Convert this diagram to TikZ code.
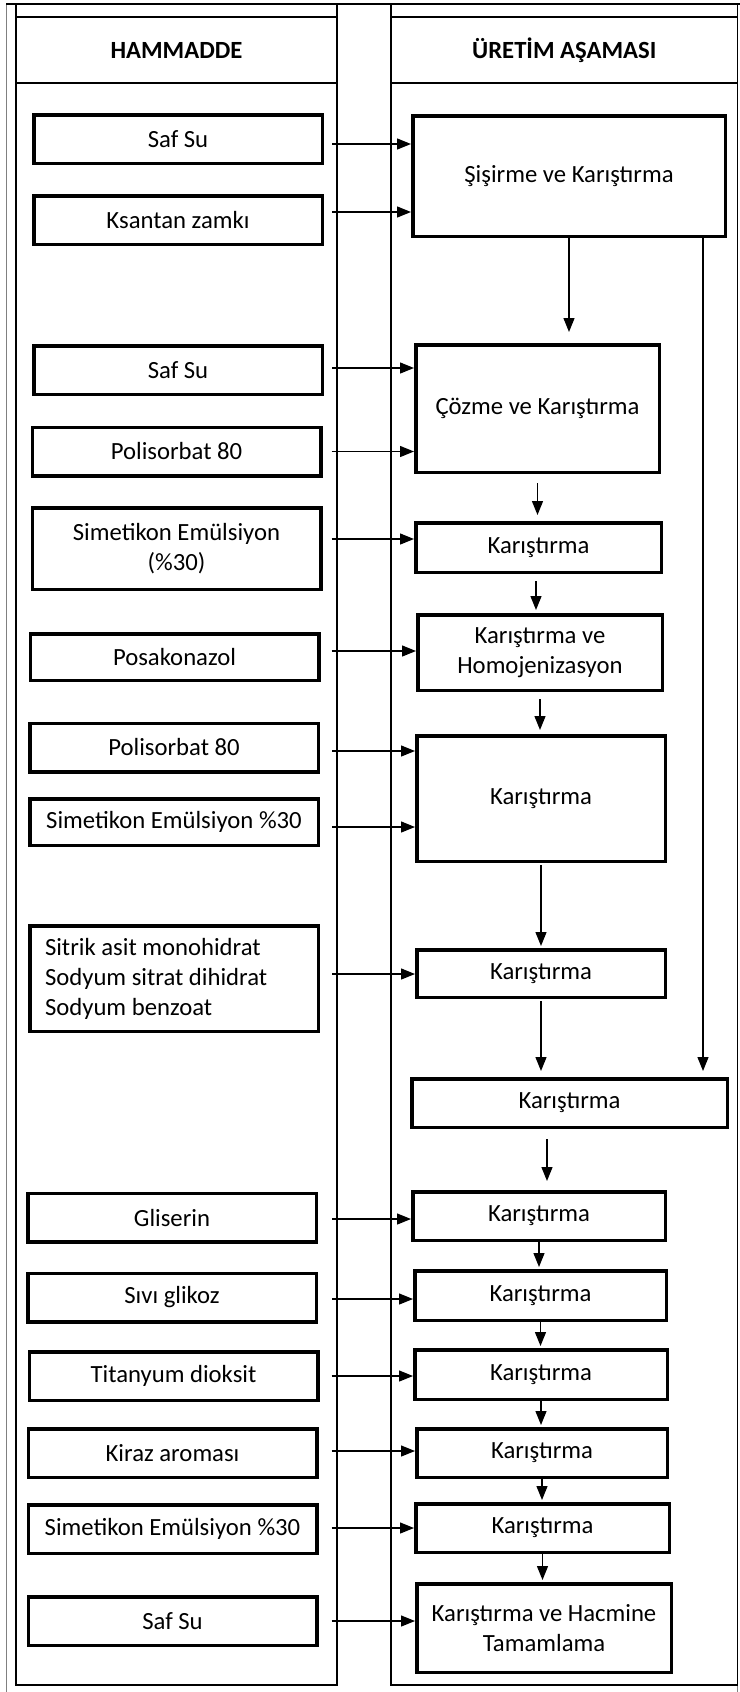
\documentclass[tikz,border=0pt]{standalone}
\usepackage{fontspec}
\setmainfont{Carlito}
\usetikzlibrary{arrows.meta}

\begin{document}
\begin{tikzpicture}[
      x=1pt, y=-1pt,
      every node/.style={font=\fontsize{24.7}{30}\selectfont},
      kutu/.style={draw, line width=3.5pt, inner sep=0pt, align=center},
      ham/.style={kutu, minimum width=288.5pt, minimum height=48.5pt},
      uret/.style={kutu, minimum width=252.5pt, minimum height=48.5pt},
      baslik/.style={draw, line width=1.5pt, minimum height=66.3pt,
                     font=\fontsize{24.7}{30}\selectfont\bfseries},
      serit/.style={line width=1.5pt},
      ok/.style={-{Triangle[length=14pt,width=11pt]}, line width=1.3pt}]

        \fill[white] (0,0) rectangle (739,1692);
        \useasboundingbox (0,0) rectangle (739,1692);

        % cerceve
        \draw[gray, line width=1pt] (6,4) -- (6,1700);
        \draw[gray, line width=1pt] (737.5,4) -- (737.5,1700);
        \draw[line width=2.5pt] (6,4) -- (745,4);
        \draw[serit] (16,4) rectangle (337,1685);
        \draw[serit] (391,4) rectangle (737.5,1685);

        \node[baslik, minimum width=321pt] (hammadde) at (176.5,50) {HAMMADDE};
        \node[baslik, minimum width=346.5pt] (asama) at (564.25,50) {ÜRETİM AŞAMASI};

        % hammadde
        \node[ham] (safsu1) at (178,139) {Saf Su};
        \node[ham] (ksantan) at (178,220) {Ksantan zamkı};
        \node[ham] (safsu2) at (178,370) {Saf Su};
        \node[ham] (polisorbat1) at (176.5,451.5) {Polisorbat 80};
        \node[ham, minimum height=81.5pt] (simetikon1) at (176.5,548.5) {Simetikon Emülsiyon\\(\%30)};
        \node[ham, minimum height=46.5pt] (posakonazol) at (174.5,657) {Posakonazol};
        \node[ham] (polisorbat2) at (174,747.5) {Polisorbat 80};
        \node[ham, minimum height=46.5pt] (simetikon2) at (174,822) {Simetikon Emülsiyon \%30};
        \node[ham, minimum height=105.5pt, text width=258pt, inner xsep=15.25pt, align=flush left]
              (sitrik) at (174,978.5) {Sitrik asit monohidrat\\Sodyum sitrat dihidrat\\Sodyum benzoat};
        \node[ham] (gliserin) at (172,1217.5) {Gliserin};
        \node[ham] (glikoz) at (172,1297.5) {Sıvı glikoz};
        \node[ham] (titanyum) at (173.5,1376) {Titanyum dioksit};
        \node[ham] (kiraz) at (172.5,1453) {Kiraz aroması};
        \node[ham] (simetikon3) at (172.5,1529) {Simetikon Emülsiyon \%30};
        \node[ham] (safsu3) at (172.5,1621) {Saf Su};

        % uretim
        \node[uret, minimum width=312.5pt, minimum height=120.5pt] (sisirme) at (569,176) {Şişirme ve Karıştırma};
        \node[uret, minimum width=243.5pt, minimum height=127.5pt] (cozme) at (537.5,408.5) {Çözme ve Karıştırma};
        \node[uret, minimum width=245.5pt, minimum height=49.5pt] (kar1) at (538.5,547.5) {Karıştırma};
        \node[uret, minimum width=244.5pt, minimum height=75.5pt] (homojen) at (540,652.5) {Karıştırma ve\\Homojenizasyon};
        \node[uret, minimum width=248.5pt, minimum height=125.5pt] (kar2) at (541,798.5) {Karıştırma};
        \node[uret, minimum width=248.5pt, minimum height=47.5pt] (kar3) at (541,973.5) {Karıştırma};
        \node[uret, minimum width=315.5pt] (kar4) at (569.5,1103) {Karıştırma};
        \node[uret] (kar5) at (539,1216) {Karıştırma};
        \node[uret, minimum width=251.5pt, minimum height=49.5pt] (kar6) at (540.5,1295.5) {Karıştırma};
        \node[uret, minimum height=49.5pt] (kar7) at (541,1374.5) {Karıştırma};
        \node[uret, minimum width=250.5pt] (kar8) at (542,1453) {Karıştırma};
        \node[uret, minimum width=253.5pt] (kar9) at (542.5,1528) {Karıştırma};
        \node[uret, minimum width=254.5pt, minimum height=88.5pt] (hacim) at (544,1628) {Karıştırma ve Hacmine\\Tamamlama};

        % hammadde -> asama
        \foreach \a/\b/\dx/\dy in {safsu1/sisirme/8/5, ksantan/sisirme/8/-8,
                                  safsu2/cozme/8/-2, polisorbat1/cozme/9/0,
                                  simetikon1/kar1/9/-9.5, posakonazol/homojen/11/-6,
                                  polisorbat2/kar2/12/3.5, simetikon2/kar2/12/5,
                                  sitrik/kar3/12/-4.5, gliserin/kar5/14/1.5,
                                  glikoz/kar6/14/1.5, titanyum/kar7/12/0,
                                  kiraz/kar8/13/-2, simetikon3/kar9/13/-1,
                                  safsu3/hacim/13/0}
        {
          \coordinate (s) at ([shift={(\dx,\dy)}]\a.east);
          \draw[ok] (s) -- (s -| \b.west);
        }

        % asama -> asama
        \draw[ok, shorten >=11pt] (sisirme.south) -- (sisirme.south |- cozme.north);
        \draw[ok, shorten <=9pt, shorten >=6pt] (cozme.south) -- (cozme.south |- kar1.north);
        \draw[ok, shorten <=7pt, shorten >=3pt] ([xshift=-2.5pt]kar1.south) -- ([xshift=-2.5pt]kar1.south |- homojen.north);
        \draw[ok, shorten <=7pt, shorten >=4pt] (homojen.south) -- (homojen.south |- kar2.north);
        \draw[ok, shorten <=2pt, shorten >=2pt] (kar2.south) -- (kar2.south |- kar3.north);
        \draw[ok, shorten <=2pt, shorten >=6pt] (kar3.south) -- (kar3.south |- kar4.north);
        \draw[ok, shorten <=10pt, shorten >=9pt] ([xshift=8pt]kar5.north |- kar4.south) -- ([xshift=8pt]kar5.north);
        \foreach \a/\b in {kar5/kar6, kar6/kar7, kar7/kar8, kar8/kar9, kar9/hacim}
          \draw[ok, shorten >=2pt] (\a.south) -- (\a.south |- \b.north);

        \coordinate (uzun) at ([xshift=134pt]sisirme.south);
        \draw[ok, shorten >=6pt] (uzun) -- (uzun |- kar4.north);

      \end{tikzpicture}
\end{document}
